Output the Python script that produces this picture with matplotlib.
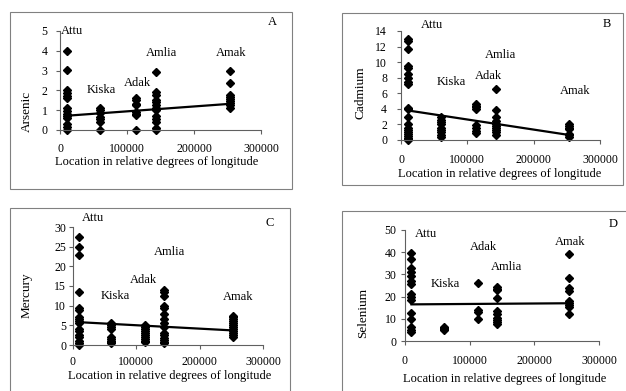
import matplotlib
matplotlib.use("Agg")
import matplotlib.pyplot as plt
from matplotlib.patches import Rectangle

plt.rcParams['font.family'] = ['Liberation Serif', 'DejaVu Serif']
plt.rcParams['font.size'] = 8.5

W, H = 626, 391

islands = ["Attu", "Kiska", "Adak", "Amlia", "Amak"]
island_x = [10000, 60000, 113000, 143000, 253000]
x_ticks = [0, 100000, 200000, 300000]
x_ticklabels = ["0", "100000", "200000", "300000"]

# element concentrations by island (Attu, Kiska, Adak, Amlia, Amak)
arsenic = [
    [4.0, 3.05, 2.0, 1.85, 1.7, 1.6, 1.1, 0.95, 0.8, 0.7, 0.6, 0.3, 0.15, 0.0],
    [1.1, 1.0, 0.85, 0.65, 0.55, 0.4, 0.0],
    [1.6, 1.5, 1.3, 1.25, 0.9, 0.8, 0.75, 0.0],
    [2.95, 1.9, 1.75, 1.5, 1.4, 1.25, 1.1, 1.0, 0.7, 0.55, 0.4, 0.1, 0.0],
    [3.0, 2.35, 1.75, 1.65, 1.55, 1.45, 1.35, 1.25, 1.1],
]
cadmium = [
    [13.0, 12.7, 11.75, 9.5, 9.2, 8.5, 8.0, 7.5, 7.2, 4.1, 4.0, 3.0, 2.0, 1.6,
     1.3, 1.0, 0.8, 0.5, 0.3, 0.1, 0.0],
    [3.0, 2.6, 2.3, 2.0, 1.6, 1.3, 1.0, 0.7, 0.4],
    [4.6, 4.4, 4.2, 4.0, 1.9, 1.6, 1.2, 0.9],
    [6.6, 3.8, 2.9, 2.4, 2.1, 1.8, 1.5, 1.3, 1.0, 0.7],
    [2.0, 1.8, 1.6, 1.4, 0.8, 0.6, 0.4],
]
mercury = [
    [27.5, 25.0, 23.0, 13.5, 9.5, 9.0, 7.0, 6.5, 6.0, 5.5, 4.0, 3.5, 2.5, 2.0,
     1.0, 0.5, 0.0],
    [5.7, 5.2, 4.6, 4.0, 2.0, 1.5, 1.0, 0.8, 0.5],
    [5.0, 4.5, 4.0, 3.5, 3.0, 2.5, 2.0, 1.5, 1.0, 0.8],
    [14.0, 13.5, 12.5, 10.0, 9.5, 8.0, 6.5, 5.5, 4.5, 3.0, 2.5, 1.8, 1.2, 0.8, 0.4],
    [7.5, 7.0, 6.5, 6.0, 5.5, 5.0, 4.5, 4.0, 3.5, 3.0, 2.5, 2.0],
]
selenium = [
    [39.5, 37.0, 33.0, 31.0, 29.5, 27.0, 25.5, 21.0, 20.0, 18.5, 12.5, 10.0,
     6.5, 5.0, 4.0],
    [6.5, 6.0, 5.5, 5.0],
    [26.0, 14.0, 13.0, 10.0],
    [24.5, 23.5, 23.0, 19.5, 13.5, 12.0, 10.5, 9.5, 8.5, 7.5],
    [39.0, 28.5, 24.0, 22.5, 18.0, 17.0, 16.0, 15.5, 12.0],
]

# linear trend end values (at Attu and Amak)
arsenic_trend = [0.72, 1.32]
cadmium_trend = [3.8, 0.65]
mercury_trend = [5.8, 3.7]
selenium_trend = [16.5, 17.0]

panels = [
    dict(letter="A", ylabel="Arsenic", data=arsenic, trend=arsenic_trend, ymax=5, ystep=1,
         frame=(10, 12, 292, 189), ax=(60, 31, 261, 130),
         labels=[(2000, 5.0), (40000, 2.0), (95500, 2.35), (128000, 3.9), (233000, 3.9)],
         letter_pos=(272, 22), ylab_pos=(27, 111), xlab_pos=(157, 162), xpad=6, ypad=6),
    dict(letter="B", ylabel="Cadmium", data=cadmium, trend=cadmium_trend, ymax=14, ystep=2,
         frame=(342, 13, 623, 185), ax=(401, 31, 600, 140),
         labels=[(30000, 14.8), (54000, 7.45), (111000, 8.2), (126000, 10.9), (240000, 6.3)],
         letter_pos=(607, 24), ylab_pos=(360, 93), xlab_pos=(500, 174), xpad=7, ypad=7),
    dict(letter="C", ylabel="Mercury", data=mercury, trend=mercury_trend, ymax=30, ystep=5,
         frame=(10, 208, 290, 400), ax=(73, 227, 263, 345),
         labels=[(14000, 32.3), (44000, 12.5), (90000, 16.5), (128000, 23.6), (237000, 12.2)],
         letter_pos=(270, 223), ylab_pos=(27, 295), xlab_pos=(170, 376), xpad=5, ypad=2),
    dict(letter="D", ylabel="Selenium", data=selenium, trend=selenium_trend, ymax=50, ystep=10,
         frame=(342, 211, 640, 400), ax=(405, 230, 599, 341),
         labels=[(15500, 48.2), (39000, 25.7), (100500, 42.3), (133000, 33.3), (232000, 44.6)],
         letter_pos=(613, 224), ylab_pos=(363, 313), xlab_pos=(505, 379), xpad=7, ypad=3),
]

fig = plt.figure(figsize=(W / 100, H / 100), dpi=100)


def fx(px):
    return px / W


def fy(py):
    return 1 - py / H


for p in panels:
    l, t, r, b = p["frame"]
    fig.patches.append(Rectangle((fx(l), fy(b)), fx(r - l), (b - t) / H,
                                 transform=fig.transFigure, fill=False,
                                 edgecolor="#808080", linewidth=0.8))

    al, at, ar, ab = p["ax"]
    ax = fig.add_axes([fx(al), fy(ab), fx(ar - al), (ab - at) / H])
    ax.set_facecolor("none")

    for xs, vals in zip(island_x, p["data"]):
        ax.plot([xs] * len(vals), vals, linestyle="none", marker="D",
                markersize=4.2, color="black", clip_on=False)
    ax.plot([island_x[0], island_x[-1]], p["trend"], color="black", linewidth=1.6)

    for name, (lx, ly) in zip(islands, p["labels"]):
        ax.text(lx, ly, name, ha="left", va="center", fontsize=9, clip_on=False)

    ax.set_xlim(0, 300000)
    ax.set_ylim(0, p["ymax"])
    ax.set_xticks(x_ticks)
    ax.set_xticklabels(x_ticklabels)
    ax.set_yticks(range(0, p["ymax"] + 1, p["ystep"]))
    for s in ["top", "right"]:
        ax.spines[s].set_visible(False)
    for s in ["left", "bottom"]:
        ax.spines[s].set_color("#606060")
        ax.spines[s].set_linewidth(0.8)
    ax.tick_params(axis="x", direction="out", length=3, width=0.8, color="#606060",
                   pad=p["xpad"], labelsize=8.5)
    ax.tick_params(axis="y", direction="out", length=3, width=0.8, color="#606060",
                   pad=p["ypad"], labelsize=8.5)

    fig.text(fx(p["letter_pos"][0]), fy(p["letter_pos"][1]), p["letter"],
             ha="center", va="center", fontsize=9)
    fig.text(fx(p["ylab_pos"][0]), fy(p["ylab_pos"][1]), p["ylabel"],
             ha="center", va="center", rotation=90, fontsize=9.5)
    fig.text(fx(p["xlab_pos"][0]), fy(p["xlab_pos"][1]),
             "Location in relative degrees of longitude",
             ha="center", va="center", fontsize=9)

fig.savefig("out.png", dpi=100)
